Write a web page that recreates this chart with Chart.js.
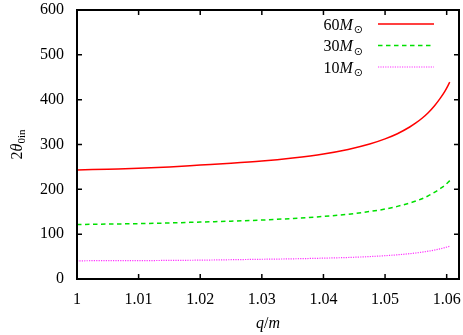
<!DOCTYPE html>
<html>
<head>
<meta charset="utf-8">
<script src="https://cdn.jsdelivr.net/npm/chart.js@4.4.1/dist/chart.umd.min.js"></script>
<style>
  html, body { margin: 0; padding: 0; background: #fff; }
</style>
</head>
<body>
<canvas id="chart" width="463" height="335"></canvas>
<script>
// q/m values along the x axis
const qm = [1.000, 1.005, 1.010, 1.015, 1.020, 1.025, 1.030, 1.035, 1.040, 1.044,
            1.0475, 1.050, 1.052, 1.054, 1.055, 1.056, 1.057, 1.058, 1.059, 1.0597, 1.0605];
// 2 theta_0in for each mass
const mass60 = [243, 245, 247, 250, 254, 258, 263, 270, 279, 289,
                301, 312.5, 324, 339, 348, 358.5, 371, 386, 404, 418.5, 439];
const mass30 = [121.5, 122.5, 123.5, 125, 127, 129, 131.5, 135, 139.5, 144.5,
                150.5, 156, 162, 169.5, 174, 179, 185.5, 193, 202, 209, 219.5];
const mass10 = [40.5, 41, 41, 41.5, 42, 43, 44, 45, 46.5, 48,
                50, 52, 54, 56.5, 58, 60, 62, 64.5, 67.5, 70, 73];
const seriesLabels = ['60', '30', '10'];
const xTicks = [1, 1.01, 1.02, 1.03, 1.04, 1.05, 1.06];
const yTicks = [0, 100, 200, 300, 400, 500, 600];

const SERIF = "'Liberation Serif', 'DejaVu Serif', serif";

function points(ys) {
    return qm.map((q, i) => ({ x: q, y: ys[i] }));
}

const datasets = [
    { label: seriesLabels[0], data: points(mass60), borderColor: '#ff0000', borderWidth: 1.5, borderDash: [] },
    { label: seriesLabels[1], data: points(mass30), borderColor: '#00e000', borderWidth: 1.5, borderDash: [4.5, 3.5] },
    { label: seriesLabels[2], data: points(mass10), borderColor: '#ff33ff', borderWidth: 1.2, borderDash: [1.2, 1.2] }
].map(d => Object.assign(d, { pointRadius: 0, fill: false, cubicInterpolationMode: 'monotone' }));

// frame with inward ticks on all four sides (gnuplot style)
const framePlugin = {
    id: 'frame',
    afterDatasetsDraw(chart) {
        const ctx = chart.ctx;
        const { left, right, top, bottom } = chart.chartArea;
        const xs = chart.scales.x, ys = chart.scales.y;
        ctx.save();
        ctx.strokeStyle = '#000';
        ctx.lineWidth = 1.5;
        ctx.beginPath();
        xTicks.forEach(v => {
            const px = xs.getPixelForValue(v);
            if (px <= left + 1) return;
            ctx.moveTo(px, bottom); ctx.lineTo(px, bottom - 5);
            ctx.moveTo(px, top); ctx.lineTo(px, top + 5);
        });
        yTicks.forEach(v => {
            const py = ys.getPixelForValue(v);
            if (py <= top + 1 || py >= bottom - 1) return;
            ctx.moveTo(left, py); ctx.lineTo(left + 5, py);
            ctx.moveTo(right, py); ctx.lineTo(right - 5, py);
        });
        ctx.stroke();
        ctx.lineWidth = 2;
        ctx.strokeRect(left, top, right - left, bottom - top);
        ctx.restore();
    }
};

// legend and axis titles with sub/superscripts
const textPlugin = {
    id: 'texts',
    afterDraw(chart) {
        const ctx = chart.ctx;
        const { left, right, top, bottom } = chart.chartArea;
        ctx.save();
        ctx.fillStyle = '#000';
        ctx.textBaseline = 'alphabetic';

        // legend
        chart.data.datasets.forEach((ds, i) => {
            const y = 29.5 + i * 21.5;
            const textRight = 363;
            ctx.font = '16px ' + SERIF;
            const wNum = ctx.measureText(ds.label).width;
            ctx.font = 'italic 16px ' + SERIF;
            const wM = ctx.measureText('M').width;
            ctx.font = '11px "DejaVu Sans"';
            const wSun = ctx.measureText('\u2299').width;
            let x = textRight - (wNum + wM + wSun + 1);
            ctx.font = '16px ' + SERIF;
            ctx.fillText(ds.label, x, y);
            x += wNum;
            ctx.font = 'italic 16px ' + SERIF;
            ctx.fillText('M', x, y);
            x += wM + 1;
            ctx.font = '11px "DejaVu Sans"';
            ctx.fillText('\u2299', x, y + 3.5);

            ctx.strokeStyle = ds.borderColor;
            ctx.lineWidth = ds.borderWidth;
            ctx.setLineDash(ds.borderDash);
            ctx.beginPath();
            ctx.moveTo(378, y - 5.5);
            ctx.lineTo(434, y - 5.5);
            ctx.stroke();
            ctx.setLineDash([]);
        });

        // x title: q/m
        ctx.font = 'italic 16px ' + SERIF;
        const wq = ctx.measureText('q').width;
        const wm = ctx.measureText('m').width;
        ctx.font = '16px ' + SERIF;
        const ws = ctx.measureText('/').width;
        let x = (left + right) / 2 - (wq + ws + wm) / 2;
        const yb = 328;
        ctx.font = 'italic 16px ' + SERIF;
        ctx.fillText('q', x, yb); x += wq;
        ctx.font = '16px ' + SERIF;
        ctx.fillText('/', x, yb); x += ws;
        ctx.font = 'italic 16px ' + SERIF;
        ctx.fillText('m', x, yb);

        // y title: 2 theta_0in, rotated
        ctx.translate(22, (top + bottom) / 2);
        ctx.rotate(-Math.PI / 2);
        ctx.font = '16px ' + SERIF;
        const w2 = ctx.measureText('2').width;
        ctx.font = 'italic 16px ' + SERIF;
        const wt = ctx.measureText('\u03b8').width;
        ctx.font = '11px ' + SERIF;
        const wsub = ctx.measureText('0in').width;
        let tx = -(w2 + wt + wsub) / 2;
        ctx.font = '16px ' + SERIF;
        ctx.fillText('2', tx, 0); tx += w2;
        ctx.font = 'italic 16px ' + SERIF;
        ctx.fillText('\u03b8', tx, 0); tx += wt;
        ctx.font = '11px ' + SERIF;
        ctx.fillText('0in', tx, 3);
        ctx.restore();
    }
};

const ctx = document.getElementById('chart').getContext('2d');
new Chart(ctx, {
    type: 'line',
    data: { datasets: datasets },
    options: {
        responsive: false,
        animation: false,
        devicePixelRatio: 1,
        layout: { padding: { top: 10, right: 4, left: 0, bottom: 0 } },
        plugins: {
            legend: { display: false },
            tooltip: { enabled: false }
        },
        scales: {
            x: {
                type: 'linear',
                min: 1,
                max: 1.062,
                grid: { display: false, drawTicks: false },
                border: { display: false },
                afterBuildTicks: scale => { scale.ticks = xTicks.map(v => ({ value: v })); },
                afterFit: scale => {
                    scale.height = 56;
                    scale.paddingLeft = 0;
                    scale.paddingRight = 0;
                },
                ticks: {
                    color: '#000',
                    padding: 11,
                    maxRotation: 0,
                    font: { family: SERIF, size: 16 },
                    callback: v => String(+v.toFixed(2))
                }
            },
            y: {
                min: 0,
                max: 600,
                grid: { display: false, drawTicks: false },
                border: { display: false },
                afterBuildTicks: scale => { scale.ticks = yTicks.map(v => ({ value: v })); },
                afterFit: scale => {
                    scale.width = 77;
                    scale.paddingTop = 0;
                    scale.paddingBottom = 0;
                },
                ticks: {
                    color: '#000',
                    padding: 13,
                    font: { family: SERIF, size: 16 }
                }
            }
        }
    },
    plugins: [framePlugin, textPlugin]
});
</script>
</body>
</html>
